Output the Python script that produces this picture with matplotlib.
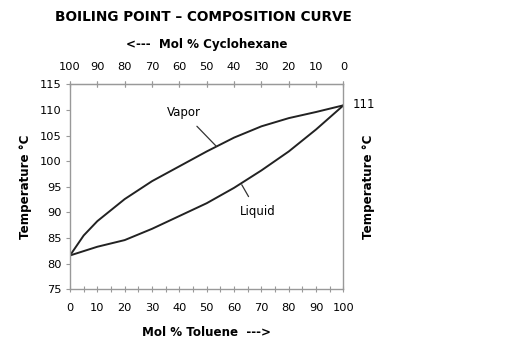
import numpy as np
import matplotlib
matplotlib.use('Agg')
import matplotlib.pyplot as plt

# mol % toluene and temperatures
vap_x = [0, 5, 10, 20, 30, 40, 50, 60, 70, 80, 90, 100]
vapor = [81.6, 85.5, 88.3, 92.6, 96.1, 99.0, 101.9, 104.6, 106.8, 108.4, 109.6, 110.9]
liq_x = [0, 10, 20, 30, 40, 50, 60, 70, 80, 90, 100]
liquid = [81.6, 83.3, 84.6, 86.8, 89.3, 91.8, 94.8, 98.2, 101.9, 106.2, 110.9]

xticks = [0, 10, 20, 30, 40, 50, 60, 70, 80, 90, 100]
top_labels = ['100', '90', '80', '70', '60', '50', '40', '30', '20', '10', '0']
yticks = [75, 80, 85, 90, 95, 100, 105, 110, 115]

plt.rcParams['font.family'] = 'DejaVu Sans'

fig = plt.figure(figsize=(5.17, 3.53), dpi=100)
ax1 = fig.add_axes([0.1354, 0.1805, 0.529, 0.5807])

ax1.plot(vap_x, vapor, color='#222222', linewidth=1.4)
ax1.plot(liq_x, liquid, color='#222222', linewidth=1.4)

ax1.set_xlim(0, 100)
ax1.set_ylim(75, 115)
ax1.set_xticks(xticks)
ax1.set_xticks(np.arange(5, 100, 10), minor=True)
ax1.set_yticks(yticks)

for s in ax1.spines.values():
    s.set_color('#999999')
    s.set_linewidth(1.0)

ax1.tick_params(axis='x', which='major', direction='inout', length=5, width=0.8,
                color='#999999', labelsize=8.2, pad=7.5, top=True)
ax1.tick_params(axis='x', which='minor', direction='inout', length=4, width=0.8,
                color='#999999', top=False)
ax1.tick_params(axis='y', which='major', direction='out', length=3, width=0.8,
                color='#999999', labelsize=8.2, pad=3)

top = ax1.secondary_xaxis('top')
top.set_xticks(xticks)
top.set_xticklabels(top_labels)
top.tick_params(direction='inout', length=5, width=0.8, color='#999999', labelsize=8.2, pad=6.5)
top.spines['top'].set_color('#999999')
top.set_xlabel('<---  Mol % Cyclohexane', fontsize=8.6, fontweight='bold', labelpad=10)

ax1.set_xlabel('Mol % Toluene  --->', fontsize=8.6, fontweight='bold', labelpad=9)
ax1.set_ylabel('Temperature °C', fontsize=8.6, fontweight='bold', labelpad=6)

fig.text(0.712, 0.47, 'Temperature °C', rotation=90, fontsize=8.6, fontweight='bold',
         ha='center', va='center')

ax1.text(103.5, 111, '111', fontsize=8.4, ha='left', va='center', clip_on=False)

ax1.annotate('Vapor', xy=(53.5, 102.9), xytext=(41.7, 109.4), fontsize=8.5,
             ha='center', va='center',
             arrowprops=dict(arrowstyle='-', color='#333333', lw=0.9, shrinkA=4, shrinkB=0))
ax1.annotate('Liquid', xy=(62.8, 95.4), xytext=(68.5, 90.1), fontsize=8.5,
             ha='center', va='center',
             arrowprops=dict(arrowstyle='-', color='#333333', lw=0.9, shrinkA=5, shrinkB=0))

fig.text(0.394, 0.952, 'BOILING POINT \u2013 COMPOSITION CURVE', fontsize=9.8,
         fontweight='bold', ha='center', va='center')

plt.savefig('out.png', dpi=100)
